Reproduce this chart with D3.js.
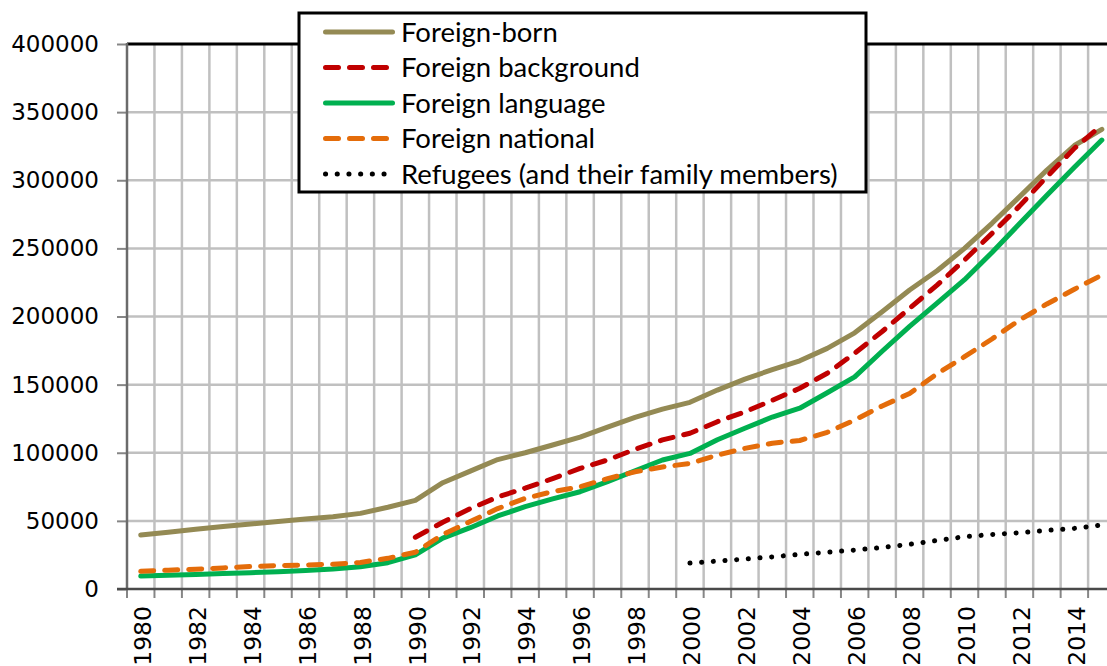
<!DOCTYPE html>
<html>
<head>
<meta charset="utf-8">
<script src="https://cdn.jsdelivr.net/npm/d3@7"></script>
<style>
  body { margin: 0; background: #fff; }
  svg { display: block; }
</style>
</head>
<body>
<svg id="chart"></svg>
<script>
// years on the category axis (last one runs off the right edge)
var years = [1980, 1981, 1982, 1983, 1984, 1985, 1986, 1987, 1988, 1989,
             1990, 1991, 1992, 1993, 1994, 1995, 1996, 1997, 1998, 1999,
             2000, 2001, 2002, 2003, 2004, 2005, 2006, 2007, 2008, 2009,
             2010, 2011, 2012, 2013, 2014, 2015];
var yearLabels = [1980, 1982, 1984, 1986, 1988, 1990, 1992, 1994, 1996, 1998,
                  2000, 2002, 2004, 2006, 2008, 2010, 2012, 2014];
var yTicks = [0, 50000, 100000, 150000, 200000, 250000, 300000, 350000, 400000];

var foreignBorn = [39600, 41700, 43800, 45800, 47700, 49600, 51400, 53100, 55500, 60000,
                   65000, 78000, 86500, 95000, 100000, 105700, 111500, 118800, 126000, 132000,
                   137000, 146000, 154000, 161000, 167500, 176600, 188000, 203500, 219500, 233600,
                   250000, 268400, 287800, 307500, 325500, 337400];
var foreignBackground = [null, null, null, null, null, null, null, null, null, null,
                   38000, 49000, 59000, 67500, 74000, 81000, 88500, 94700, 102500, 109400,
                   114300, 122800, 130000, 138500, 147300, 158300, 173000, 189000, 206000, 223000,
                   241500, 261000, 281000, 302600, 323400, 340500];
var foreignLanguage = [9500, 10100, 10700, 11300, 12000, 12700, 13500, 14700, 16400, 19300,
                   25000, 37300, 45000, 53600, 60400, 66100, 71400, 78800, 86800, 94700,
                   99500, 109500, 118000, 126200, 132700, 144000, 155700, 174500, 192700, 209800,
                   227000, 247000, 268000, 289000, 309500, 329500];
var foreignNational = [13000, 13800, 14500, 15500, 16500, 17200, 17600, 18200, 19500, 22500,
                   27000, 40000, 49500, 59000, 66500, 71500, 75000, 81000, 86000, 89500,
                   92200, 98300, 103200, 107000, 109000, 115000, 124000, 134300, 143500, 158000,
                   170500, 183500, 197400, 209200, 220000, 230400];
var refugees = [null, null, null, null, null, null, null, null, null, null,
                null, null, null, null, null, null, null, null, null, null,
                19000, 20500, 22000, 23600, 25400, 27000, 28600, 30500, 32800, 35600,
                38400, 40000, 41300, 43000, 44500, 47000];

var seriesNames = ["Foreign-born", "Foreign background", "Foreign language", "Foreign national",
                   "Refugees (and their family members)"];
var seriesValues = [foreignBorn, foreignBackground, foreignLanguage, foreignNational, refugees];
var seriesColors = ["#948a54", "#c00000", "#00b050", "#e46c0a", "#000000"];
var seriesDash = [null, "13,11", null, "13,11", "0.1,11.6"];

var W = 1107, H = 666;
var plotLeft = 127, plotTop = 44, plotBottom = 589;
var step = 27.46;

var svg = d3.select("#chart").attr("width", W).attr("height", H);
svg.append("rect").attr("width", W).attr("height", H).attr("fill", "#fff");

var x = d3.scaleBand().domain(years).range([plotLeft, plotLeft + step * years.length]);
var y = d3.scaleLinear().domain([0, 400000]).range([plotBottom, plotTop]);
var xc = function(yr) { return x(yr) + x.bandwidth() / 2; };

// gridlines
var grid = svg.append("g").attr("stroke", "#c0c0c0").attr("stroke-width", 2.5);
grid.selectAll(".hg").data(yTicks.slice(1, -1)).enter().append("line")
    .attr("x1", plotLeft).attr("x2", W).attr("y1", d => y(d)).attr("y2", d => y(d));
grid.selectAll(".vg").data(years.slice(1)).enter().append("line")
    .attr("x1", d => x(d)).attr("x2", d => x(d)).attr("y1", plotTop).attr("y2", plotBottom);

// top border of plot area
svg.append("line").attr("x1", plotLeft).attr("x2", W).attr("y1", plotTop).attr("y2", plotTop)
   .attr("stroke", "#000").attr("stroke-width", 3);

// y axis
var yAxis = d3.axisLeft(y).tickValues(yTicks).tickSize(10).tickPadding(18).tickFormat(d3.format("d"));
var gy = svg.append("g").attr("transform", "translate(" + plotLeft + ",0)").call(yAxis);
gy.select(".domain").remove();
gy.selectAll(".tick line").attr("stroke", "#868686").attr("stroke-width", 2);
gy.selectAll(".tick text").attr("font-family", "DejaVu Sans").attr("font-size", 23).attr("fill", "#000");
svg.append("line").attr("x1", plotLeft).attr("x2", plotLeft).attr("y1", plotTop - 1).attr("y2", plotBottom)
   .attr("stroke", "#6b6b6b").attr("stroke-width", 2.5);

// x axis: ticks between categories, labels on every second year
var xAxis = d3.axisBottom(x).tickValues(yearLabels).tickSize(0).tickPadding(0);
var gx = svg.append("g").attr("transform", "translate(0," + plotBottom + ")").call(xAxis);
gx.select(".domain").remove();
gx.selectAll(".tick text")
  .attr("font-family", "DejaVu Sans").attr("font-size", 23.5).attr("fill", "#000")
  .attr("text-anchor", "end")
  .attr("transform", "rotate(-90)")
  .attr("x", -17).attr("y", 2).attr("dy", "0.35em");
svg.append("g").selectAll("line").data(years).enter().append("line")
   .attr("x1", d => x(d)).attr("x2", d => x(d)).attr("y1", plotBottom).attr("y2", plotBottom + 9)
   .attr("stroke", "#868686").attr("stroke-width", 2);
svg.append("line").attr("x1", plotLeft - 10).attr("x2", W).attr("y1", plotBottom).attr("y2", plotBottom)
   .attr("stroke", "#4a4a4a").attr("stroke-width", 2.5);

// series lines
var line = d3.line()
    .defined(d => d.v !== null)
    .x(d => xc(d.yr))
    .y(d => y(d.v));

seriesValues.forEach(function(vals, i) {
  var pts = years.map(function(yr, j) { return { yr: yr, v: vals[j] }; });
  svg.append("path")
     .datum(pts)
     .attr("d", line)
     .attr("fill", "none")
     .attr("stroke", seriesColors[i])
     .attr("stroke-width", 5)
     .attr("stroke-linecap", "round")
     .attr("stroke-linejoin", "round")
     .attr("stroke-dasharray", seriesDash[i]);
});

// legend
var lg = svg.append("g");
lg.append("rect").attr("x", 299).attr("y", 13).attr("width", 567).attr("height", 179)
  .attr("fill", "#fff").attr("stroke", "#000").attr("stroke-width", 3);
var rowY = d3.scalePoint().domain(seriesNames).range([32, 174]);
seriesNames.forEach(function(name, i) {
  var cy = rowY(name);
  lg.append("line").attr("x1", 325.5).attr("x2", seriesDash[i] ? 388 : 392.5)
    .attr("y1", cy).attr("y2", cy)
    .attr("stroke", seriesColors[i]).attr("stroke-width", 5)
    .attr("stroke-linecap", "round")
    .attr("stroke-dasharray", seriesDash[i]);
  lg.append("text").attr("x", 401).attr("y", cy).attr("dy", "0.35em")
    .attr("font-family", "Lato").attr("font-size", 27.5).attr("fill", "#000")
    .text(name);
});
</script>
</body>
</html>
